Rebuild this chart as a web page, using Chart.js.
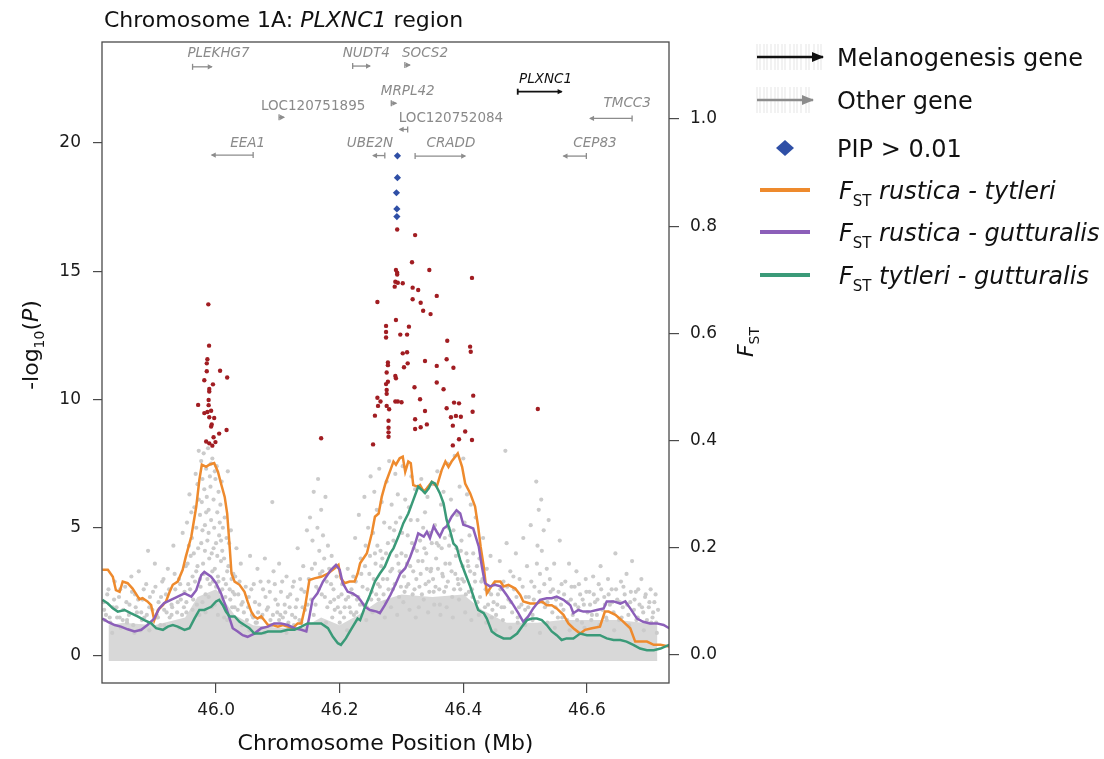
<!DOCTYPE html>
<html>
<head>
<meta charset="utf-8">
<script src="https://cdn.jsdelivr.net/npm/chart.js@4/dist/chart.umd.min.js"></script>
<style>
  html, body { margin: 0; padding: 0; background: #fff; }
</style>
</head>
<body>
<canvas id="chart" width="1104" height="759"></canvas>
<script>
// axis ticks
const xTicks = [46.0, 46.2, 46.4, 46.6];
const pTicks = [0, 5, 10, 15, 20];
const fstTicks = [0, 0.2, 0.4, 0.6, 0.8, 1.0];

// F_ST sliding windows, [position Mb, F_ST]
const fstRusticaTytleri = [
  [45.816,.159],[45.825,.159],[45.833,.146],[45.838,.121],[45.844,.118],[45.849,.137],[45.857,.134],[45.865,.124],[45.870,.115],[45.876,.104],
  [45.881,.106],[45.889,.100],[45.895,.093],[45.900,.065],[45.906,.084],[45.914,.093],[45.919,.100],[45.925,.118],[45.930,.131],[45.938,.137],
  [45.946,.159],[45.951,.183],[45.960,.221],[45.968,.277],[45.973,.327],[45.977,.355],[45.984,.351],[45.989,.355],[45.997,.358],[46.003,.342],
  [46.008,.320],[46.014,.295],[46.018,.264],[46.022,.202],[46.025,.152],[46.030,.137],[46.038,.131],[46.046,.118],[46.051,.100],[46.057,.081],
  [46.062,.072],[46.067,.068],[46.073,.072],[46.078,.065],[46.084,.056],[46.092,.056],[46.100,.053],[46.108,.056],[46.116,.053],[46.124,.050],
  [46.132,.059],[46.138,.059],[46.144,.090],[46.151,.140],[46.159,.143],[46.170,.146],[46.181,.152],[46.192,.162],[46.198,.168],[46.202,.143],
  [46.208,.134],[46.216,.137],[46.224,.137],[46.229,.152],[46.233,.171],[46.244,.190],[46.252,.227],[46.257,.258],[46.263,.264],[46.268,.295],
  [46.274,.320],[46.282,.345],[46.287,.361],[46.291,.355],[46.297,.367],[46.302,.370],[46.306,.342],[46.311,.361],[46.315,.358],[46.319,.317],
  [46.326,.314],[46.330,.317],[46.336,.305],[46.341,.311],[46.349,.323],[46.357,.314],[46.365,.345],[46.371,.361],[46.376,.351],[46.381,.361],
  [46.391,.376],[46.398,.351],[46.403,.320],[46.411,.302],[46.419,.277],[46.424,.239],[46.428,.202],[46.433,.165],[46.438,.115],[46.443,.124],
  [46.451,.137],[46.460,.137],[46.465,.128],[46.473,.131],[46.484,.124],[46.492,.112],[46.497,.100],[46.508,.096],[46.519,.096],[46.527,.100],
  [46.535,.093],[46.543,.093],[46.551,.087],[46.562,.075],[46.570,.059],[46.578,.050],[46.589,.040],[46.597,.047],[46.608,.050],[46.621,.053],
  [46.629,.081],[46.635,.081],[46.646,.075],[46.656,.065],[46.670,.050],[46.678,.025],[46.697,.025],[46.708,.019],[46.719,.019],[46.733,.016]
];
const fstRusticaGutturalis = [
  [45.816,.068],[45.825,.062],[45.836,.056],[45.846,.053],[45.857,.048],[45.868,.044],[45.879,.047],[45.889,.056],[45.900,.068],[45.908,.087],
  [45.916,.097],[45.927,.103],[45.938,.109],[45.949,.115],[45.960,.109],[45.968,.121],[45.976,.149],[45.981,.155],[45.992,.146],[46.000,.134],
  [46.008,.115],[46.016,.090],[46.022,.068],[46.027,.050],[46.035,.044],[46.043,.037],[46.051,.034],[46.062,.040],[46.073,.050],[46.084,.053],
  [46.094,.059],[46.105,.059],[46.116,.056],[46.127,.050],[46.138,.047],[46.146,.044],[46.151,.072],[46.156,.103],[46.164,.115],[46.173,.137],
  [46.186,.159],[46.194,.168],[46.200,.159],[46.205,.134],[46.213,.118],[46.221,.115],[46.229,.109],[46.233,.103],[46.241,.090],[46.249,.084],
  [46.260,.081],[46.265,.078],[46.273,.093],[46.282,.112],[46.290,.131],[46.298,.152],[46.306,.162],[46.314,.183],[46.322,.208],[46.327,.227],
  [46.336,.221],[46.341,.230],[46.346,.218],[46.352,.240],[46.357,.230],[46.362,.221],[46.368,.236],[46.373,.240],[46.381,.258],[46.389,.270],
  [46.395,.264],[46.400,.243],[46.408,.240],[46.416,.236],[46.425,.202],[46.430,.165],[46.435,.134],[46.443,.128],[46.451,.131],[46.460,.128],
  [46.470,.112],[46.481,.093],[46.489,.078],[46.497,.062],[46.505,.072],[46.513,.087],[46.524,.103],[46.535,.106],[46.543,.106],[46.551,.109],
  [46.562,.103],[46.573,.093],[46.578,.078],[46.586,.084],[46.594,.081],[46.605,.081],[46.616,.084],[46.627,.087],[46.632,.100],[46.643,.100],
  [46.654,.096],[46.662,.100],[46.670,.087],[46.681,.068],[46.691,.062],[46.702,.059],[46.713,.059],[46.724,.056],[46.733,.050]
];
const fstTytleriGutturalis = [
  [45.816,.103],[45.825,.096],[45.833,.087],[45.841,.081],[45.852,.084],[45.862,.078],[45.873,.072],[45.884,.065],[45.895,.059],[45.903,.050],
  [45.914,.047],[45.922,.053],[45.930,.056],[45.938,.053],[45.949,.047],[45.957,.050],[45.965,.068],[45.973,.084],[45.981,.084],[45.992,.090],
  [46.000,.100],[46.005,.103],[46.011,.093],[46.016,.081],[46.022,.072],[46.030,.072],[46.038,.062],[46.046,.056],[46.054,.050],[46.062,.040],
  [46.073,.040],[46.084,.044],[46.094,.044],[46.105,.044],[46.116,.047],[46.127,.047],[46.138,.053],[46.148,.059],[46.159,.059],[46.170,.059],
  [46.181,.050],[46.189,.034],[46.197,.022],[46.202,.019],[46.210,.031],[46.218,.047],[46.229,.068],[46.233,.065],[46.241,.090],[46.249,.112],
  [46.257,.137],[46.265,.152],[46.273,.165],[46.282,.190],[46.287,.199],[46.295,.221],[46.303,.246],[46.311,.264],[46.319,.289],[46.327,.314],
  [46.333,.308],[46.338,.302],[46.344,.311],[46.349,.323],[46.354,.320],[46.362,.302],[46.368,.283],[46.373,.252],[46.379,.230],[46.384,.208],
  [46.389,.202],[46.395,.177],[46.403,.152],[46.411,.128],[46.419,.100],[46.424,.084],[46.433,.078],[46.438,.068],[46.446,.044],[46.454,.037],
  [46.465,.031],[46.476,.031],[46.487,.040],[46.495,.053],[46.503,.065],[46.511,.068],[46.519,.068],[46.527,.065],[46.535,.056],[46.543,.044],
  [46.551,.037],[46.559,.028],[46.567,.031],[46.578,.031],[46.589,.040],[46.600,.037],[46.611,.037],[46.621,.037],[46.632,.031],[46.643,.028],
  [46.654,.028],[46.664,.025],[46.675,.019],[46.686,.012],[46.697,.009],[46.708,.009],[46.719,.012],[46.733,.019]
];

// dense low -log10(P) band: upper edge of the packed gray SNPs
const snpBandTop = [
  [45.826,1.2],[45.85,1.3],[45.90,1.2],[45.95,1.5],[45.97,2.3],[46.00,2.6],[46.03,1.6],[46.06,1.2],[46.10,1.1],[46.14,1.1],
  [46.17,1.5],[46.20,1.2],[46.23,1.6],[46.26,2.1],[46.30,2.4],[46.35,2.3],[46.40,2.4],[46.43,1.8],[46.47,1.3],[46.52,1.3],
  [46.56,1.4],[46.60,1.4],[46.65,1.4],[46.69,1.3],[46.714,1.2]
];

// other SNPs, [position Mb, -log10 P]
const graySnps = [
  [45.818,2.1],[45.822,1.6],[45.826,2.6],[45.829,1.3],[45.833,1.9],[45.836,2.9],[45.840,1.5],[45.843,2.3],[45.846,1.1],[45.850,1.8],
  [45.853,2.7],[45.856,1.4],[45.860,2.0],[45.863,3.1],[45.866,1.2],[45.869,2.4],[45.872,1.7],[45.875,3.3],[45.878,1.0],[45.881,2.2],
  [45.884,1.5],[45.887,2.8],[45.890,4.1],[45.892,1.9],[45.895,1.3],[45.898,2.5],[45.901,3.6],[45.904,1.6],[45.907,2.1],[45.910,1.2],
  [45.913,2.9],[45.916,1.8],[45.919,2.4],[45.922,3.4],[45.925,1.5],[45.928,2.0],[45.931,4.3],[45.934,2.6],[45.937,1.7],[45.940,3.0],
  [45.943,2.2],[45.946,4.8],[45.948,1.9],[45.951,3.5],
  [45.819,1.8],[45.824,2.4],[45.828,1.5],[45.835,2.2],[45.839,1.9],[45.845,2.6],[45.849,1.4],[45.855,2.1],[45.859,1.6],[45.864,2.5],
  [45.870,1.9],[45.874,2.2],[45.879,1.7],[45.883,2.6],[45.888,1.6],[45.893,2.3],[45.897,1.8],[45.902,2.7],[45.906,1.5],[45.911,2.3],
  [45.915,3.0],[45.920,1.7],[45.924,2.6],[45.929,1.9],[45.933,3.2],[45.938,2.1],[45.942,2.8],[45.945,1.6],[45.949,2.5],[45.952,2.1],
  [45.953,5.2],[45.955,2.8],[45.957,6.3],[45.959,3.9],[45.961,4.6],[45.963,2.2],[45.965,5.8],[45.967,7.1],[45.968,3.3],[45.970,6.7],
  [45.971,4.2],[45.972,8.0],[45.974,5.5],[45.975,2.7],[45.976,7.6],[45.977,6.0],[45.978,4.9],[45.979,3.6],[45.980,7.9],[45.981,6.5],
  [45.982,5.1],[45.983,2.4],[45.984,7.3],[45.985,6.2],[45.986,4.5],[45.987,8.1],[45.988,5.7],[45.989,3.8],[45.990,7.0],[45.991,6.6],
  [45.992,5.3],[45.993,4.0],[45.994,7.7],[45.995,2.9],[45.996,6.1],[45.997,5.0],[45.998,3.4],[45.999,6.9],[46.000,4.4],[46.001,7.4],
  [46.002,5.6],[46.003,3.1],[46.004,6.4],[46.005,4.7],[46.006,2.5],[46.007,5.9],[46.008,3.7],[46.009,6.8],[46.010,4.1],[46.012,3.0],
  [46.014,5.4],[46.015,2.3],[46.017,4.6],[46.019,7.2],[46.020,3.5],[46.022,2.6],[46.024,4.9],[46.026,1.9],[46.028,3.2],[46.030,2.4],
  [46.033,4.2],[46.035,1.8],[46.038,2.9],[46.040,3.6],[46.043,2.1],[46.045,1.7],[46.048,2.7],
  [45.962,1.8],[45.969,2.0],[45.973,1.6],[45.978,2.1],[45.983,1.7],[45.988,2.3],[45.993,1.9],[45.998,2.0],[46.003,1.6],[46.008,2.2],[46.013,1.5],
  [45.954,3.6],[45.956,4.3],[45.958,2.6],[45.960,5.6],[45.962,3.1],[45.964,4.0],[45.966,2.9],[45.968,5.0],[45.970,3.5],[45.972,6.1],
  [45.974,3.0],[45.976,4.4],[45.978,6.9],[45.980,3.2],[45.982,4.1],[45.984,5.6],[45.986,3.0],[45.988,4.8],[45.990,2.8],[45.992,7.5],
  [45.994,3.3],[45.996,4.2],[45.998,7.2],[46.000,2.7],[46.002,3.9],[46.004,2.9],[46.006,5.2],[46.008,4.5],[46.010,2.6],[46.011,5.0],
  [46.013,3.8],[46.016,2.8],[46.018,3.3],[46.021,4.4],[46.023,2.2],[46.025,3.0],[46.027,2.5],[46.031,3.1],[46.036,2.4],[46.041,2.0],
  [46.050,1.4],[46.053,2.3],[46.055,3.9],[46.058,1.6],[46.061,2.8],[46.064,1.3],[46.067,3.4],[46.070,2.0],[46.073,1.5],[46.076,2.6],
  [46.079,3.8],[46.082,1.8],[46.085,2.9],[46.088,1.4],[46.091,6.0],[46.093,3.3],[46.096,2.2],[46.099,1.7],[46.102,3.6],[46.105,2.5],
  [46.108,1.5],[46.111,2.0],[46.114,3.1],[46.117,1.3],[46.120,2.4],[46.123,1.6],[46.126,2.9],[46.129,1.9],[46.132,4.2],[46.135,1.4],
  [46.138,2.6],[46.141,3.5],[46.144,1.8],[46.147,4.9],
  [46.052,1.9],[46.057,2.6],[46.060,1.5],[46.063,2.1],[46.068,1.7],[46.072,2.9],[46.075,1.6],[46.080,2.3],[46.084,1.9],[46.087,2.5],
  [46.092,1.6],[46.095,2.8],[46.100,2.0],[46.104,1.6],[46.107,2.9],[46.112,1.7],[46.116,2.3],[46.119,1.9],[46.124,2.7],[46.128,1.5],
  [46.131,2.2],[46.136,3.0],[46.140,1.9],[46.143,2.5],[46.148,2.0],[46.155,3.4],[46.161,2.0],[46.166,2.6],[46.172,3.3],[46.176,2.3],
  [46.180,1.9],[46.186,2.8],[46.191,2.2],[46.197,1.9],[46.203,2.4],[46.208,1.9],[46.214,2.3],[46.218,1.7],
  [46.150,3.0],[46.152,5.4],[46.154,2.2],[46.156,4.5],[46.158,6.4],[46.160,3.6],[46.162,2.7],[46.164,5.0],[46.165,6.9],[46.167,4.1],
  [46.168,3.2],[46.170,5.7],[46.171,2.4],[46.173,4.7],[46.175,3.8],[46.177,6.2],[46.179,2.9],[46.181,4.3],[46.183,3.4],[46.185,2.1],
  [46.187,3.9],[46.190,2.6],[46.192,1.8],[46.195,3.1],[46.198,2.3],[46.201,1.7],[46.204,2.8],[46.207,1.5],[46.210,2.2],[46.213,3.4],
  [46.216,1.9],[46.219,2.6],
  [46.222,3.1],[46.225,4.6],[46.228,2.2],[46.231,5.5],[46.234,3.8],[46.237,2.7],[46.240,6.2],[46.242,4.3],[46.244,1.9],[46.246,5.0],
  [46.248,3.2],[46.250,7.0],[46.252,2.5],[46.254,4.8],[46.256,6.4],[46.258,3.6],[46.260,5.7],[46.262,2.8],[46.264,7.3],[46.266,4.1],
  [46.268,6.0],[46.270,3.0],[46.272,5.2],[46.274,2.1],[46.276,6.8],[46.278,4.4],[46.280,7.6],[46.282,3.3],[46.284,5.9],[46.286,2.6],
  [46.288,4.9],[46.290,7.1],[46.292,3.9],[46.294,6.3],[46.296,2.3],[46.298,5.4],[46.300,4.0],[46.302,7.4],[46.304,3.1],[46.306,6.1],
  [46.308,2.7],[46.310,4.7],[46.312,5.8],[46.314,3.5],[46.316,7.0],[46.318,2.4],[46.320,4.2],[46.322,6.5],[46.324,3.0],[46.326,5.3],
  [46.328,1.9],[46.330,4.5],[46.332,6.9],[46.334,3.7],[46.336,2.2],[46.338,5.6],[46.340,4.0],[46.342,6.2],[46.344,2.9],[46.346,4.8],
  [46.348,3.4],[46.350,6.7],[46.352,2.5],[46.354,5.1],[46.356,3.8],[46.358,7.2],[46.360,4.3],[46.362,2.0],[46.364,5.9],[46.366,3.2],
  [46.368,6.4],[46.370,4.6],[46.372,2.7],[46.374,7.5],[46.376,5.0],[46.378,3.6],[46.380,6.1],[46.382,2.3],[46.384,4.9],[46.386,7.8],
  [46.388,3.9],[46.390,5.5],[46.392,2.8],[46.394,6.6],[46.396,4.1],[46.398,3.0],[46.400,7.7],[46.402,5.2],[46.404,2.4],[46.406,6.3],
  [46.408,3.5],[46.410,4.7],[46.412,5.9],[46.414,2.6],[46.416,4.0],[46.418,3.2],[46.420,5.4],[46.423,2.1],[46.426,3.8],[46.429,2.9],
  [46.432,4.6],[46.435,1.9],[46.438,3.4],[46.441,2.5],[46.444,3.9],[46.447,1.8],[46.450,2.8],
  [46.223,1.6],[46.233,2.0],[46.243,1.4],[46.253,1.7],[46.263,2.2],[46.273,1.5],[46.283,1.9],[46.293,1.6],[46.303,2.1],[46.313,1.8],
  [46.323,1.5],[46.333,2.4],[46.343,1.7],[46.353,2.0],[46.363,1.6],[46.373,1.9],[46.383,1.5],[46.393,2.2],[46.403,1.7],[46.413,1.4],
  [46.425,1.6],[46.437,1.3],[46.446,1.5],
  [46.257,4.0],[46.267,3.5],[46.277,3.0],[46.287,4.5],[46.297,3.3],[46.307,3.9],[46.317,4.4],[46.327,3.7],[46.337,4.2],[46.347,3.3],
  [46.357,4.4],[46.367,3.1],[46.377,4.3],[46.387,3.2],[46.397,4.5],[46.407,3.7],
  [46.221,2.4],[46.226,2.9],[46.230,2.3],[46.235,3.2],[46.238,2.0],[46.241,3.5],[46.245,2.6],[46.249,3.9],[46.251,2.2],[46.255,3.0],
  [46.259,2.4],[46.261,4.3],[46.265,2.7],[46.269,3.8],[46.271,2.4],[46.275,4.0],[46.279,2.6],[46.281,5.0],[46.285,3.4],[46.289,2.8],
  [46.291,5.2],[46.295,3.6],[46.299,2.7],[46.301,4.8],[46.305,2.5],[46.309,3.6],[46.311,2.8],[46.315,5.3],[46.319,3.3],[46.321,2.6],
  [46.325,4.1],[46.329,2.7],[46.331,3.2],[46.335,5.0],[46.339,2.8],[46.341,3.4],[46.345,2.5],[46.349,4.4],[46.351,3.0],[46.355,2.7],
  [46.359,3.4],[46.361,2.6],[46.365,4.2],[46.369,2.5],[46.371,3.6],[46.375,2.9],[46.379,4.7],[46.381,3.3],[46.385,2.6],[46.389,4.2],
  [46.391,3.0],[46.395,2.6],[46.399,3.5],[46.401,2.9],[46.405,4.0],[46.409,2.5],[46.411,3.3],[46.415,2.3],[46.419,2.9],[46.422,3.5],
  [46.427,2.3],[46.431,3.0],[46.436,2.6],[46.440,2.0],[46.445,2.4],[46.449,2.1],
  [46.453,1.6],[46.456,2.4],[46.459,3.7],[46.462,1.9],[46.465,2.9],[46.468,8.0],[46.470,4.4],[46.473,2.2],[46.476,3.3],[46.479,1.7],
  [46.482,2.6],[46.485,4.0],[46.488,1.5],[46.491,3.0],[46.494,2.0],[46.497,4.6],[46.500,1.8],[46.503,3.5],[46.506,2.3],[46.509,5.1],
  [46.512,1.6],[46.515,2.7],[46.518,6.8],[46.520,4.3],[46.522,5.7],[46.524,3.2],[46.526,6.1],[46.528,2.1],[46.530,4.9],[46.532,1.9],
  [46.535,3.4],[46.538,5.3],[46.541,2.5],[46.544,1.7],[46.547,3.6],[46.550,2.2],[46.553,1.5],[46.556,4.5],[46.559,2.8],
  [46.455,2.0],[46.460,2.6],[46.466,1.9],[46.471,2.7],[46.477,2.1],[46.481,3.1],[46.486,2.3],[46.490,1.9],[46.496,2.7],[46.501,2.3],
  [46.505,1.9],[46.510,2.9],[46.514,2.2],[46.519,3.6],[46.523,2.5],[46.527,4.1],[46.531,2.8],[46.536,2.1],[46.540,3.0],[46.545,2.6],
  [46.549,1.9],[46.554,2.5],[46.558,2.0],
  [46.562,1.8],[46.565,2.9],[46.568,1.4],[46.571,3.6],[46.574,2.2],[46.577,1.6],[46.580,2.7],[46.583,3.3],[46.586,1.9],[46.589,2.4],
  [46.592,1.3],[46.595,2.0],[46.598,3.0],[46.601,1.7],[46.604,2.5],[46.607,1.4],[46.610,3.1],[46.613,2.1],[46.616,1.6],[46.619,2.8],
  [46.622,3.5],[46.625,1.8],[46.628,2.3],[46.631,1.5],[46.634,3.0],[46.637,2.0],[46.640,2.6],[46.643,1.7],[46.646,4.0],[46.649,2.2],
  [46.652,1.4],[46.655,2.9],[46.658,1.9],[46.661,2.4],[46.664,3.2],[46.667,1.6],[46.670,2.1],[46.673,3.7],[46.676,1.8],[46.679,2.5],
  [46.682,1.5],[46.685,2.0],[46.688,3.0],[46.691,1.7],[46.694,2.3],[46.697,1.4],[46.700,1.9],[46.703,2.6],[46.706,1.5],[46.709,2.1],
  [46.712,1.3],[46.715,1.8],
  [46.563,2.4],[46.569,2.1],[46.575,2.7],[46.581,2.0],[46.587,2.8],[46.593,2.2],[46.599,2.5],[46.605,2.0],[46.611,2.4],[46.617,2.2],
  [46.623,2.6],[46.629,2.0],[46.635,2.4],[46.641,2.1],[46.647,2.6],[46.653,2.1],[46.659,2.7],[46.665,2.0],[46.671,2.5],[46.677,2.2],
  [46.683,2.6],[46.689,1.9],[46.695,2.4],[46.701,2.1],[46.707,1.7],[46.711,2.4],
  [45.820,1.4],[45.832,0.9],[45.844,1.5],[45.856,1.3],[45.868,0.9],[45.880,1.4],[45.892,1.0],[45.904,1.5],[45.916,1.2],[45.928,1.6],
  [45.940,1.1],[45.952,1.7],[46.018,1.4],[46.030,1.9],[46.042,1.2],[46.054,1.0],[46.066,1.3],[46.078,0.9],[46.090,1.2],[46.102,1.4],
  [46.114,0.9],[46.126,1.2],[46.138,1.3],[46.146,1.0],[46.158,1.6],[46.178,1.3],[46.188,1.5],[46.200,1.3],[46.212,1.0],[46.227,1.7],
  [46.452,1.0],[46.464,1.4],[46.476,1.1],[46.488,1.3],[46.500,1.2],[46.512,1.4],[46.524,0.9],[46.536,1.3],[46.548,1.1],[46.560,1.5],
  [46.572,1.0],[46.584,1.4],[46.596,1.1],[46.608,1.6],[46.620,1.2],[46.632,1.4],[46.644,1.0],[46.656,1.5],[46.668,1.2],[46.680,1.4],
  [46.692,1.0],[46.704,1.3],[46.713,0.9]
];

// significant SNPs (red)
const sigSnps = [
  [45.9875,13.71],[45.9887,12.10],[45.986,11.57],[45.985,11.41],[45.985,11.10],[46.0065,11.12],[46.018,10.86],[45.981,10.75],[45.995,10.59],[45.989,10.41],
  [45.989,10.31],[45.988,9.98],[45.988,9.78],[45.971,9.79],[45.981,9.47],[45.986,9.51],[45.992,9.56],[45.989,9.31],[45.997,9.28],[45.993,9.03],
  [45.992,8.95],[46.017,8.81],[46.005,8.67],[45.996,8.53],[45.984,8.36],[45.999,8.34],[45.989,8.29],[45.994,8.20],
  [46.170,8.49],[46.5205,9.63],
  [46.293,16.63],[46.322,16.41],[46.317,15.35],[46.291,15.05],[46.293,14.94],[46.293,14.87],[46.345,15.05],[46.414,14.74],[46.290,14.59],[46.294,14.55],
  [46.302,14.53],[46.289,14.40],[46.318,14.36],[46.327,14.27],[46.261,13.80],[46.318,13.91],[46.331,13.77],[46.357,14.04],[46.335,13.46],[46.347,13.33],
  [46.291,13.10],[46.275,12.87],[46.312,12.84],[46.275,12.63],[46.275,12.42],[46.298,12.53],[46.309,12.53],[46.374,12.29],[46.411,12.06],[46.412,11.86],
  [46.302,11.80],[46.309,11.84],[46.278,11.44],[46.278,11.34],[46.310,11.41],[46.338,11.50],[46.373,11.57],[46.304,11.26],[46.357,11.31],[46.384,11.24],
  [46.276,11.05],[46.290,10.92],[46.291,10.83],[46.278,10.69],[46.275,10.60],[46.276,10.37],[46.276,10.22],[46.321,10.48],[46.357,10.66],[46.368,10.40],
  [46.416,10.15],[46.261,10.07],[46.266,9.92],[46.262,9.75],[46.276,9.75],[46.280,9.62],[46.290,9.92],[46.294,9.92],[46.300,9.89],[46.330,10.01],
  [46.385,9.88],[46.393,9.85],[46.373,9.66],[46.338,9.55],[46.257,9.37],[46.279,9.17],[46.279,8.90],[46.279,8.72],[46.279,8.55],[46.322,9.23],
  [46.380,9.31],[46.388,9.36],[46.396,9.33],[46.415,9.52],[46.341,9.03],[46.331,8.92],[46.322,8.85],[46.383,8.98],[46.403,8.75],[46.254,8.25],
  [46.393,8.45],[46.383,8.21],[46.414,8.42]
];

// SNPs with PIP > 0.01 (blue diamonds)
const pipSnps = [[46.2934,19.50],[46.2934,18.65],[46.2918,18.06],[46.2925,17.43],[46.2925,17.13]];

// gene track
const geneNames  = ["PLEKHG7","NUDT4","SOCS2","LOC120751895","MRPL42","PLXNC1","LOC120752084","TMCC3","EEA1","UBE2N","CRADD","CEP83"];
const geneStart  = [45.962, 46.221, 46.307, 46.104, 46.285, 46.488, 46.297, 46.605, 45.993, 46.254, 46.322, 46.562];
const geneEnd    = [45.993, 46.249, 46.312, 46.108, 46.290, 46.559, 46.310, 46.673, 46.060, 46.273, 46.403, 46.599];
const geneStrand = [1, 1, 1, 1, 1, 1, -1, -1, -1, -1, 1, -1];
const geneRow    = [22.97, 23.0, 23.04, 21.0, 21.55, 22.0, 20.53, 20.96, 19.53, 19.51, 19.49, 19.49];
const labelPos   = [46.004, 46.243, 46.338, 46.157, 46.310, 46.533, 46.380, 46.665, 46.051, 46.249, 46.380, 46.613];
const labelRow   = [23.48, 23.48, 23.48, 21.42, 21.99, 22.46, 20.96, 21.54, 20.0, 20.0, 20.0, 20.0];
const melanogenesis = ["PLXNC1"];

const FONT = '"DejaVu Sans", sans-serif';
const font = (size, italic) => (italic ? "italic " : "") + size + "px " + FONT;
const pts = arr => arr.map(p => ({ x: p[0], y: p[1] }));

function runsWidth(ctx, runs) {
  let w = 0;
  for (const r of runs) { ctx.font = font(r[1], r[2]); w += ctx.measureText(r[0]).width; }
  return w;
}
function drawRuns(ctx, runs, x, y) {
  let cx = x;
  for (const r of runs) {
    ctx.font = font(r[1], r[2]);
    ctx.fillText(r[0], cx, y + (r[3] || 0));
    cx += ctx.measureText(r[0]).width;
  }
}
function arrow(ctx, x0, x1, y, dir, head, half) {
  ctx.beginPath();
  ctx.moveTo(x0, y); ctx.lineTo(x1, y); ctx.stroke();
  const hx = dir > 0 ? x1 : x0;
  ctx.beginPath();
  ctx.moveTo(hx + dir * 1, y);
  ctx.lineTo(hx - dir * head, y - half);
  ctx.lineTo(hx - dir * head, y + half);
  ctx.closePath();
  ctx.fill();
}

const decor = {
  id: "decor",
  afterDatasetsDraw(chart) {
    const ctx = chart.ctx, xs = chart.scales.x, ys = chart.scales.y;
    ctx.save();
    // genes
    for (let i = 0; i < geneNames.length; i++) {
      const mel = melanogenesis.includes(geneNames[i]);
      const col = mel ? "#111" : "#8c8c8c";
      let x0 = xs.getPixelForValue(geneStart[i]), x1 = xs.getPixelForValue(geneEnd[i]);
      const y = ys.getPixelForValue(geneRow[i]);
      if (x1 - x0 < 5) { const c = (x0 + x1) / 2; x0 = c - 2.5; x1 = c + 2.5; }
      ctx.strokeStyle = col; ctx.fillStyle = col; ctx.lineWidth = mel ? 1.8 : 1.3;
      arrow(ctx, x0, x1, y, geneStrand[i], 4, 2.6);
      const tail = geneStrand[i] > 0 ? x0 : x1;
      ctx.beginPath(); ctx.moveTo(tail, y - 3); ctx.lineTo(tail, y + 3); ctx.stroke();
      ctx.font = font(13.5, !geneNames[i].startsWith("LOC"));
      ctx.textAlign = "center"; ctx.textBaseline = "middle";
      ctx.fillStyle = mel ? "#111" : "#8a8a8a";
      ctx.fillText(geneNames[i], xs.getPixelForValue(labelPos[i]), ys.getPixelForValue(labelRow[i]));
    }
    ctx.restore();
  },
  afterDraw(chart) {
    const ctx = chart.ctx, a = chart.chartArea;
    ctx.save();
    // frame
    ctx.strokeStyle = "#4a4a4a"; ctx.lineWidth = 1.3;
    ctx.strokeRect(a.left, a.top, a.right - a.left, a.bottom - a.top);
    ctx.fillStyle = "#111"; ctx.textAlign = "left"; ctx.textBaseline = "alphabetic";
    // title
    drawRuns(ctx, [["Chromosome 1A: ", 22, false], ["PLXNC1", 22, true], [" region", 22, false]], 104, 27);
    // left axis title
    let runs = [["-log", 22, false], ["10", 14, false, 6], ["(", 22, false], ["P", 22, true], [")", 22, false]];
    ctx.save(); ctx.translate(38, 345); ctx.rotate(-Math.PI / 2);
    drawRuns(ctx, runs, -runsWidth(ctx, runs) / 2, 0); ctx.restore();
    // right axis title
    runs = [["F", 22, true], ["ST", 14, false, 6]];
    ctx.save(); ctx.translate(753, 342); ctx.rotate(-Math.PI / 2);
    drawRuns(ctx, runs, -runsWidth(ctx, runs) / 2, 0); ctx.restore();

    // legend
    const lx = 757, tx = 837;
    const bars = [0, 3, 7, 10, 14, 18, 21, 25, 28, 33, 37, 40, 44, 49, 52, 57, 61, 64];
    ctx.lineWidth = 1;
    ctx.strokeStyle = "rgba(0,0,0,0.10)";
    for (const b of bars) { ctx.beginPath(); ctx.moveTo(lx + b, 44); ctx.lineTo(lx + b, 70); ctx.stroke(); }
    for (const b of bars.slice(0, 15)) { ctx.beginPath(); ctx.moveTo(lx + b, 87); ctx.lineTo(lx + b, 113); ctx.stroke(); }
    ctx.lineWidth = 2.5;
    ctx.strokeStyle = "#111"; ctx.fillStyle = "#111";
    arrow(ctx, lx, 823, 57, 1, 11, 5);
    ctx.strokeStyle = "#8c8c8c"; ctx.fillStyle = "#8c8c8c";
    arrow(ctx, lx, 813, 100, 1, 11, 5);
    ctx.fillStyle = "#2f4fa6";
    ctx.beginPath(); ctx.moveTo(785, 140); ctx.lineTo(794, 148); ctx.lineTo(785, 156); ctx.lineTo(776, 148); ctx.closePath(); ctx.fill();
    const lines = [["#ee8a2d", 190, " rustica - tytleri"], ["#8c5fb9", 232, " rustica - gutturalis"], ["#3a9a78", 275, " tytleri - gutturalis"]];
    ctx.lineWidth = 4;
    for (const l of lines) {
      ctx.strokeStyle = l[0];
      ctx.beginPath(); ctx.moveTo(760, l[1]); ctx.lineTo(810, l[1]); ctx.stroke();
    }
    ctx.fillStyle = "#111";
    ctx.font = font(24, false);
    ctx.fillText("Melanogenesis gene", tx, 57 + 8.5);
    ctx.fillText("Other gene", tx, 100 + 8.5);
    ctx.fillText("PIP > 0.01", tx, 148 + 8.5);
    for (const l of lines) drawRuns(ctx, [["F", 24, true], ["ST", 15, false, 7], [l[2], 24, true]], tx + 2, l[1] + 8.5);
    ctx.restore();
  }
};

const tickFont = { family: FONT, size: 17 };

new Chart(document.getElementById("chart"), {
  type: "scatter",
  data: {
    datasets: [
      { data: pts(snpBandTop), type: "line", yAxisID: "y", borderWidth: 0, pointRadius: 0,
        backgroundColor: "#d8d8d8", fill: { value: -0.2 }, order: 10 },
      { data: pts(graySnps), yAxisID: "y", pointRadius: 2.1, borderWidth: 0,
        backgroundColor: "#cbcbcb", order: 9 },
      { data: pts(fstRusticaTytleri), type: "line", yAxisID: "y2", borderColor: "#ee8a2d",
        borderWidth: 2.5, pointRadius: 0, fill: false, order: 5 },
      { data: pts(fstRusticaGutturalis), type: "line", yAxisID: "y2", borderColor: "#8c5fb9",
        borderWidth: 2.5, pointRadius: 0, fill: false, order: 4 },
      { data: pts(fstTytleriGutturalis), type: "line", yAxisID: "y2", borderColor: "#3a9a78",
        borderWidth: 2.5, pointRadius: 0, fill: false, order: 3 },
      { data: pts(sigSnps), yAxisID: "y", pointRadius: 2.2, borderWidth: 0,
        backgroundColor: "#a11d22", order: 2 },
      { data: pts(pipSnps), yAxisID: "y", pointStyle: "rectRot", pointRadius: 3.6, borderWidth: 0,
        backgroundColor: "#2f4fa6", order: 1 }
    ]
  },
  options: {
    responsive: false,
    animation: false,
    events: [],
    layout: { padding: { top: 42, left: 0, right: 345, bottom: 0 } },
    plugins: { legend: { display: false }, tooltip: { enabled: false } },
    scales: {
      x: {
        type: "linear", min: 45.8155, max: 46.7327,
        afterBuildTicks: s => { s.ticks = xTicks.map(v => ({ value: v })); },
        afterFit: s => { s.height = 76; },
        ticks: { callback: v => v.toFixed(1), font: tickFont, color: "#1a1a1a", padding: 7, maxRotation: 0, autoSkip: false },
        grid: { drawOnChartArea: false, tickLength: 10, color: "#4a4a4a", lineWidth: 1.2 },
        border: { display: false },
        title: { display: true, text: "Chromosome Position (Mb)", font: { family: FONT, size: 22 }, color: "#111", padding: { top: 0, bottom: 2 } }
      },
      y: {
        position: "left", min: -1.053, max: 23.938,
        afterBuildTicks: s => { s.ticks = pTicks.map(v => ({ value: v })); },
        afterFit: s => { s.width = 102; },
        ticks: { font: tickFont, color: "#1a1a1a", padding: 12 },
        grid: { drawOnChartArea: false, tickLength: 9, color: "#4a4a4a", lineWidth: 1.2 },
        border: { display: false }
      },
      y2: {
        position: "right", min: -0.0522, max: 1.1437,
        afterBuildTicks: s => { s.ticks = fstTicks.map(v => ({ value: v })); },
        afterFit: s => { s.width = 90; },
        ticks: { callback: v => v.toFixed(1), font: tickFont, color: "#1a1a1a", padding: 11 },
        grid: { drawOnChartArea: false, tickLength: 10, color: "#4a4a4a", lineWidth: 1.2 },
        border: { display: false }
      }
    }
  },
  plugins: [decor]
});
</script>
</body>
</html>
